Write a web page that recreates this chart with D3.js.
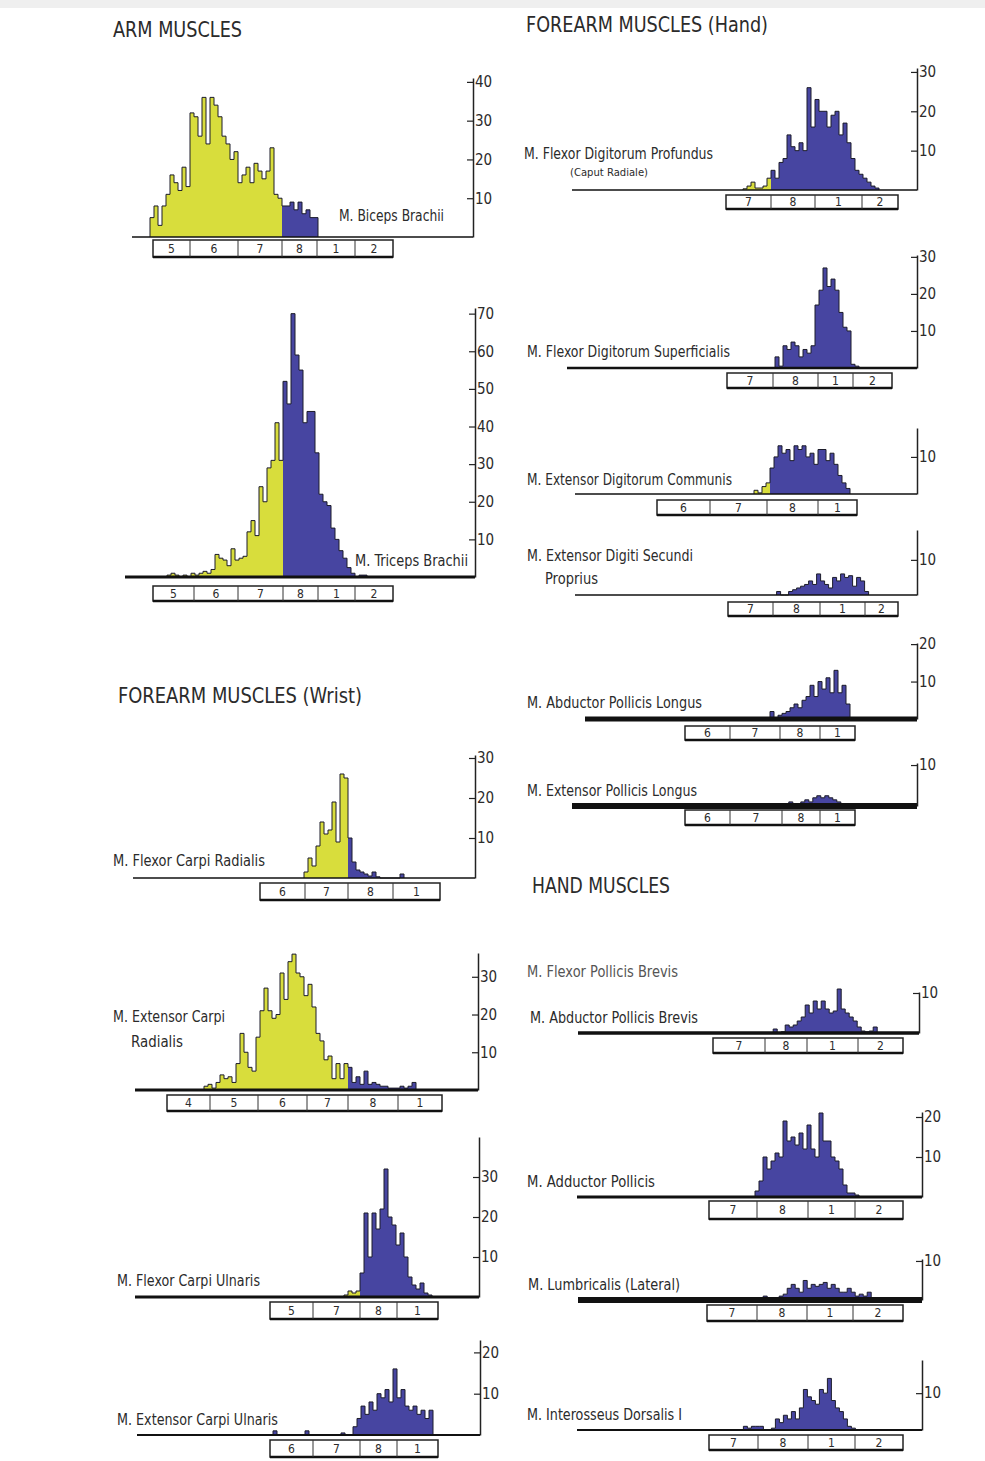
<!DOCTYPE html>
<html>
<head>
<meta charset="utf-8">
<script src="https://cdn.jsdelivr.net/npm/d3@7/dist/d3.min.js"></script>
<style>
  body { margin: 0; background: #fff; }
  svg { display: block; }
  text { font-family: "Liberation Sans Narrow", "DejaVu Sans Condensed", "Arial Narrow", sans-serif; fill: #2b2b2b; }
</style>
</head>
<body>
<svg width="985" height="1461"></svg>
<script>
// counts per histogram bin (x unit = one bin)
var bicepsCounts = [5, 8, 3, 8, 11, 16, 14, 12, 18, 13, 32, 31, 26, 36, 24, 36, 34, 31, 26, 24, 20, 22, 14, 16, 18, 14, 19, 17, 15, 17, 23, 11, 10, 8, 8, 9, 7, 9, 6, 7, 5, 5]
var tricepsCounts = [0.5, 1, 0.5, 0, 0.5, 0, 1, 0.5, 1, 1.5, 1, 2, 6, 5, 4.5, 3, 7.5, 4.5, 5, 5.5, 12, 15, 11, 24, 20, 29, 31, 41, 31,
  52, 46, 70, 59, 55, 41, 44, 44, 33, 22, 20, 19, 13, 10, 7, 5, 2.5, 1, 0, 0.5, 0.5]
var fcrCounts = [1.5, 5, 3, 8, 14, 11, 12, 19, 9, 26, 25, 10, 4, 2, 1.5, 1, 0.5, 1.5, 0.3, 0, 0, 0, 0, 0, 1]
var ecrCounts = [1, 1.5, 0.5, 2, 4, 3, 3.5, 2, 7, 15, 10, 6, 5, 14, 21, 27, 21, 19, 20, 31, 24, 34, 36, 31, 30, 25, 28, 22, 15, 13, 8, 9, 3, 7, 3, 7,
  6, 2, 3.5, 1.5, 5, 1.5, 2, 1.5, 1, 1, 0.5, 0.5, 0.5, 1, 0.5, 1, 2]
var fcuCounts = [0.5, 1.5, 1, 1.5, 6, 21, 10, 21, 17, 22, 32, 20, 18, 13, 16, 10, 5, 3, 2, 3.5, 1, 0.5]
var ecuCounts = [1, 0, 0, 0, 0, 0, 0, 0, 1, 0, 0, 0, 0, 0, 0, 0, 0, 0.5, 0, 0,
  2, 4, 7, 5, 8, 6, 10, 9, 11, 8, 16, 9, 11, 7, 6, 7, 5, 6, 4, 6]
var fdpCounts = [0.3, 1, 2, 0.5, 0.5, 1, 3, 5, 3, 7, 8, 14, 11, 10, 12, 10, 26, 16, 23, 20, 20, 16, 19, 20, 14, 17, 12, 8, 5, 4, 3, 2, 1, 0.5]
var fdsCounts = [3, 0.5, 6, 5, 7, 6, 3, 5, 4, 6, 17, 21, 27, 22, 24, 21, 15, 11, 10, 1, 0.5]
var edcCounts = [1, 0.3, 2, 3, 7, 10, 13, 11, 12, 9, 13, 12, 13, 10, 11, 8, 12, 12, 9, 11, 8, 5, 3, 1.5]
var edspCounts = [1, 0, 0, 1, 1.5, 2, 2.5, 3, 4, 3, 6, 4, 3, 2, 5, 4, 6, 5, 5.5, 2.5, 5, 4, 1]
var aplCounts = [2, 0.3, 1, 1.5, 2, 3, 4, 3, 5, 6, 9, 6, 10, 8, 11, 7, 13, 7, 9, 4]
var eplCounts = [1, 0, 0, 1, 1.5, 1, 2, 2.5, 2, 2.5, 2, 1.5, 1]
var apbCounts = [1, 0, 0.3, 2, 1.5, 2, 3, 4, 7, 5, 8, 6, 8, 6, 5, 5.5, 11, 6, 5, 4, 3, 1.5, 0.5, 0.3, 0.5, 1.5]
var apCounts = [1.5, 4, 10, 7, 9, 11, 10, 19, 14, 15, 13, 16, 12, 18, 12, 10, 21, 14, 14, 10, 9, 7, 3, 1, 1, 0.5]
var lumbCounts = [1, 0, 0, 0.5, 1, 1.5, 3, 4, 3, 2, 5, 3, 4, 3.5, 4, 4.5, 3, 4, 3, 2, 2, 3, 2, 1, 1.5, 1, 2, 0.5]
var idiCounts = [1, 0.5, 1, 1, 1, 0, 0, 0.5, 3, 2, 4, 3, 5, 3, 6, 11, 9, 8, 7, 11, 10, 14, 8, 6, 5, 3, 1, 0.5]

// spinal segment boxes: boundaries (in bins) and labels
var segArm = ['5', '6', '7', '8', '1', '2']
var segWrist4 = ['6', '7', '8', '1']
var segEcr = ['4', '5', '6', '7', '8', '1']
var segFcu = ['5', '7', '8', '1']
var segHand = ['7', '8', '1', '2']

var bicepsBounds = [5.25, 14.5, 26.5, 37.5, 46.25, 55.75, 65.25]
var tricepsBounds = [7, 17.25, 28.25, 39.5, 48.25, 57.5, 67]
var fcrBounds = [31.75, 43, 53.75, 65, 76.75]
var ecrBounds = [8, 18.75, 30.75, 43, 53.25, 65.75, 76.75]
var fcuBounds = [33.75, 44.5, 56.25, 65.5, 75.75]
var ecuBounds = [33.25, 44, 55.75, 65, 75.25]
var fdpBounds = [38.5, 49.75, 60.75, 72.5, 81.5]
var fdsBounds = [40, 51.5, 62.75, 71.5, 81.25]
var edcBounds = [20.5, 33.75, 48, 60.75, 70.5]
var edspBounds = [38.25, 49.5, 61.25, 72.5, 80.75]
var aplBounds = [25, 36.25, 48.75, 58.75, 67.5]
var eplBounds = [28.25, 39.5, 52.5, 62, 70.75]
var apbBounds = [33.75, 46.75, 57.25, 70, 81.25]
var apBounds = [33, 45, 57.75, 69.5, 81.5]
var lumbBounds = [32.25, 44.75, 57.25, 68.75, 81.25]
var idiBounds = [33, 45.25, 57.75, 69.5, 81.5]

// y tick values
var ticks70 = [10, 20, 30, 40, 50, 60, 70]
var ticks40 = [10, 20, 30, 40]
var ticks30 = [10, 20, 30]
var ticks20 = [10, 20]
var ticks10 = [10]

var titles = [
  {text: 'ARM MUSCLES', x: 113, y: 37, w: 129},
  {text: 'FOREARM MUSCLES (Hand)', x: 526, y: 32, w: 242},
  {text: 'FOREARM MUSCLES (Wrist)', x: 118, y: 703, w: 244},
  {text: 'HAND MUSCLES', x: 532, y: 893, w: 138}
]

// panels: data + where they sit on the page
var panels = [
  {counts: bicepsCounts, start: 4.5, split: 33, bounds: bicepsBounds, segs: segArm, ticks: ticks40, yMax: 41,
    left: 132, right: 473, base: 237, top: 78, lw: 1.5, gap: 3, bh: 17,
    labels: [{t: 'M. Biceps Brachii', x: 339, y: 221, w: 105}]},
  {counts: tricepsCounts, start: 10.5, split: 29, bounds: tricepsBounds, segs: segArm, ticks: ticks70, yMax: 71.5,
    left: 125, right: 475, base: 577, top: 308, lw: 3, gap: 9, bh: 15,
    labels: [{t: 'M. Triceps Brachii', x: 355, y: 566, w: 113}]},
  {counts: fcrCounts, start: 42.75, split: 11, bounds: fcrBounds, segs: segWrist4, ticks: ticks30, yMax: 30.75,
    left: 133, right: 475, base: 878, top: 755, lw: 1.5, gap: 5, bh: 17,
    labels: [{t: 'M. Flexor Carpi Radialis', x: 113, y: 866, w: 152}]},
  {counts: ecrCounts, start: 17.25, split: 36, bounds: ecrBounds, segs: segEcr, ticks: ticks30, yMax: 36.3,
    left: 135, right: 478, base: 1090, top: 953, lw: 3, gap: 5, bh: 16,
    labels: [{t: 'M. Extensor Carpi', x: 113, y: 1022, w: 112}, {t: 'Radialis', x: 131, y: 1047, w: 52}]},
  {counts: fcuCounts, start: 52.25, split: 4, bounds: fcuBounds, segs: segFcu, ticks: ticks30, yMax: 40,
    left: 135, right: 479, base: 1297, top: 1137, lw: 3, gap: 5, bh: 17,
    labels: [{t: 'M. Flexor Carpi Ulnaris', x: 117, y: 1286, w: 143}]},
  {counts: ecuCounts, start: 34, split: 0, bounds: ecuBounds, segs: segWrist4, ticks: ticks20, yMax: 23,
    left: 137, right: 480, base: 1435, top: 1340, lw: 2, gap: 5, bh: 17,
    labels: [{t: 'M. Extensor Carpi Ulnaris', x: 117, y: 1425, w: 161}]},
  {counts: fdpCounts, start: 42.75, split: 7, bounds: fdpBounds, segs: segHand, ticks: ticks30, yMax: 31,
    left: 572, right: 917, base: 190, top: 68, lw: 1.5, gap: 5, bh: 14,
    labels: [{t: 'M. Flexor Digitorum Profundus', x: 524, y: 159, w: 189},
      {t: '(Caput Radiale)', x: 570, y: 176, w: 78, size: 10}]},
  {counts: fdsCounts, start: 52, split: 0, bounds: fdsBounds, segs: segHand, ticks: ticks30, yMax: 30.5,
    left: 567, right: 917, base: 368, top: 255, lw: 2.5, gap: 5, bh: 15,
    labels: [{t: 'M. Flexor Digitorum Superficialis', x: 527, y: 357, w: 203}]},
  {counts: edcCounts, start: 44.75, split: 4, bounds: edcBounds, segs: segWrist4, ticks: ticks10, yMax: 17.8,
    left: 575, right: 917, base: 494, top: 428, lw: 1.5, gap: 6, bh: 15,
    labels: [{t: 'M. Extensor Digitorum Communis', x: 527, y: 485, w: 205}]},
  {counts: edspCounts, start: 50.4, split: 0, bounds: edspBounds, segs: segHand, ticks: ticks10, yMax: 18.5,
    left: 575, right: 917, base: 595, top: 530, lw: 1.5, gap: 7, bh: 14,
    labels: [{t: 'M. Extensor Digiti Secundi', x: 527, y: 561, w: 166}, {t: 'Proprius', x: 545, y: 584, w: 53}]},
  {counts: aplCounts, start: 46.25, split: 0, bounds: aplBounds, segs: segWrist4, ticks: ticks20, yMax: 20.3,
    left: 585, right: 917, base: 719, top: 643, lw: 5, gap: 7, bh: 14,
    labels: [{t: 'M. Abductor Pollicis Longus', x: 527, y: 708, w: 175}]},
  {counts: eplCounts, start: 54.2, split: 0, bounds: eplBounds, segs: segWrist4, ticks: ticks10, yMax: 10.5,
    left: 572, right: 917, base: 806, top: 763, lw: 6, gap: 4, bh: 15,
    labels: [{t: 'M. Extensor Pollicis Longus', x: 527, y: 796, w: 170}]},
  {counts: apbCounts, start: 48.8, split: 0, bounds: apbBounds, segs: segHand, ticks: ticks10, yMax: 10.25,
    left: 578, right: 919, base: 1033, top: 992, lw: 3.5, gap: 5, bh: 15,
    labels: [{t: 'M. Flexor Pollicis Brevis', x: 527, y: 977, w: 151, faint: true},
      {t: 'M. Abductor Pollicis Brevis', x: 530, y: 1023, w: 168}]},
  {counts: apCounts, start: 44.5, split: 0, bounds: apBounds, segs: segHand, ticks: ticks20, yMax: 21.25,
    left: 577, right: 922, base: 1197, top: 1112, lw: 3, gap: 4, bh: 18,
    labels: [{t: 'M. Adductor Pollicis', x: 527, y: 1187, w: 128}]},
  {counts: lumbCounts, start: 46.3, split: 0, bounds: lumbBounds, segs: segHand, ticks: ticks10, yMax: 10.5,
    left: 578, right: 922, base: 1300, top: 1259, lw: 6, gap: 5, bh: 16,
    labels: [{t: 'M. Lumbricalis (Lateral)', x: 528, y: 1290, w: 152}]},
  {counts: idiCounts, start: 41.6, split: 0, bounds: idiBounds, segs: segHand, ticks: ticks10, yMax: 19,
    left: 577, right: 922, base: 1430, top: 1360, lw: 2, gap: 5, bh: 15,
    labels: [{t: 'M. Interosseus Dorsalis I', x: 527, y: 1420, w: 155}]}
]

var binPx = 4
var yellow = '#d8dd3c'
var blue = '#4745a1'

var svg = d3.select('svg')
svg.append('rect').attr('width', 985).attr('height', 1461).attr('fill', '#fff')
svg.append('rect').attr('width', 985).attr('height', 8).attr('fill', '#efefef')

svg.selectAll('text.title')
  .data(titles)
  .enter().append('text')
  .attr('class', 'title')
  .attr('x', d => d.x)
  .attr('y', d => d.y)
  .attr('font-size', 22)
  .attr('textLength', d => d.w)
  .attr('lengthAdjust', 'spacingAndGlyphs')
  .text(d => d.text)

panels.forEach(function (p) {
  var g = svg.append('g')

  var xScale = d3.scaleLinear()
    .domain([0, (p.right - p.left) / binPx])
    .range([p.left, p.right])
  var yScale = d3.scaleLinear()
    .domain([0, p.yMax])
    .range([p.base, p.top])

  // step vertices for a run of bins
  function steps(from, to) {
    var pts = [[p.start + from, 0]]
    for (var i = from; i < to; i++) {
      pts.push([p.start + i, p.counts[i]])
      pts.push([p.start + i + 1, p.counts[i]])
    }
    pts.push([p.start + to, 0])
    return pts
  }

  var area = d3.area()
    .x(d => xScale(d[0]))
    .y0(yScale(0))
    .y1(d => yScale(d[1]))
  var line = d3.line()
    .x(d => xScale(d[0]))
    .y(d => yScale(d[1]))

  if (p.split > 0) {
    g.append('path').attr('d', area(steps(0, p.split))).attr('fill', yellow)
  }
  if (p.split < p.counts.length) {
    g.append('path').attr('d', area(steps(p.split, p.counts.length))).attr('fill', blue)
  }
  g.append('path')
    .attr('d', line(steps(0, p.counts.length)))
    .attr('fill', 'none')
    .attr('stroke', '#1c1c2a')
    .attr('stroke-width', 1)
    .attr('stroke-linejoin', 'miter')

  // baseline
  g.append('line')
    .attr('x1', xScale(0)).attr('x2', xScale.range()[1])
    .attr('y1', yScale(0)).attr('y2', yScale(0))
    .attr('stroke', '#111')
    .attr('stroke-width', p.lw)

  // right-hand count axis
  var yAxis = d3.axisRight(yScale)
    .tickValues(p.ticks)
    .tickSize(-6)
    .tickSizeOuter(0)
    .tickPadding(2)
  var ax = g.append('g')
    .attr('transform', 'translate(' + [p.right, 0] + ')')
    .call(yAxis)
  ax.select('.domain').attr('stroke', '#222').attr('stroke-width', 1.5)
  ax.selectAll('.tick line').attr('stroke', '#222').attr('stroke-width', 1.2)
  ax.selectAll('.tick text')
    .attr('font-size', 15)
    .attr('font-family', '"Liberation Sans Narrow", "DejaVu Sans Condensed", sans-serif')
    .attr('fill', '#2b2b2b')

  // spinal segment box
  var by = p.base + p.gap
  var b0 = xScale(p.bounds[0])
  var b1 = xScale(p.bounds[p.bounds.length - 1])
  g.append('rect')
    .attr('x', b0).attr('y', by)
    .attr('width', b1 - b0).attr('height', p.bh)
    .attr('fill', '#fff')
    .attr('stroke', '#222')
    .attr('stroke-width', 1.5)
  g.append('line')
    .attr('x1', b0).attr('x2', b1)
    .attr('y1', by + p.bh).attr('y2', by + p.bh)
    .attr('stroke', '#111').attr('stroke-width', 2.5)
  g.selectAll('line.div')
    .data(p.bounds.slice(1, -1))
    .enter().append('line')
    .attr('class', 'div')
    .attr('x1', d => xScale(d)).attr('x2', d => xScale(d))
    .attr('y1', by).attr('y2', by + p.bh)
    .attr('stroke', '#333').attr('stroke-width', 1)
  g.selectAll('text.seg')
    .data(p.segs)
    .enter().append('text')
    .attr('class', 'seg')
    .attr('x', (d, i) => (xScale(p.bounds[i]) + xScale(p.bounds[i + 1])) / 2)
    .attr('y', by + p.bh / 2 + 4)
    .attr('text-anchor', 'middle')
    .attr('font-size', 12)
    .text(d => d)

  // muscle names
  g.selectAll('text.lab')
    .data(p.labels)
    .enter().append('text')
    .attr('class', 'lab')
    .attr('x', d => d.x)
    .attr('y', d => d.y)
    .attr('font-size', d => d.size || 15)
    .attr('textLength', d => d.w)
    .attr('lengthAdjust', 'spacingAndGlyphs')
    .style('fill', d => d.faint ? '#555' : '#2b2b2b')
    .text(d => d.t)
})
</script>
</body>
</html>
